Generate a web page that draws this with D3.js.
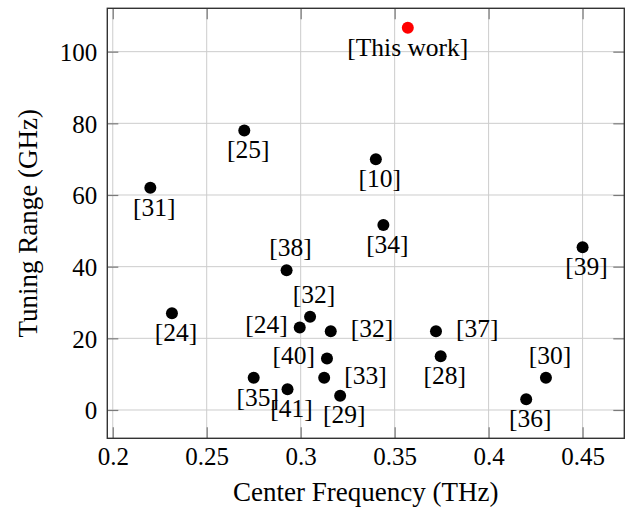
<!DOCTYPE html>
<html>
<head>
<meta charset="utf-8">
<script src="https://cdn.jsdelivr.net/npm/d3@7"></script>
<style>
  body { margin: 0; background: #fff; }
  text { font-family: 'Liberation Serif', 'Times New Roman', Times, serif; fill: #000; }
</style>
</head>
<body>
<svg width="626" height="508"></svg>
<script>
// other works: reference tag, centre frequency (THz), tuning range (GHz)
var refs  = ['[25]', '[10]', '[31]', '[34]', '[38]', '[39]', '[24]', '[32]', '[24]', '[32]', '[37]', '[40]', '[28]', '[30]', '[33]', '[35]', '[41]', '[29]', '[36]']
var freq  = [0.270, 0.340, 0.220, 0.344, 0.2925, 0.450, 0.2315, 0.305, 0.2995, 0.316, 0.372, 0.314, 0.3745, 0.4305, 0.3125, 0.275, 0.293, 0.321, 0.420]
var range = [78, 70, 62, 51.6, 39, 45.4, 27, 26, 23, 22, 22, 14.4, 15, 9, 9, 9, 5.8, 4, 3]
var side  = ['below', 'below', 'below', 'below', 'above', 'below', 'below', 'above', 'left', 'right', 'right', 'left', 'below', 'above', 'right', 'below', 'below', 'below', 'below']

// this work
var thisLabel = ['[This work]']
var thisFreq  = [0.357]
var thisRange = [106.7]

var xTicks = [0.2, 0.25, 0.3, 0.35, 0.4, 0.45]
var yTicks = [0, 20, 40, 60, 80, 100]

var serif = "'Liberation Serif', 'Times New Roman', Times, serif"

var margin = { top: 8.3, right: 1.7, bottom: 69.7, left: 107.3 }
var width = 626 - margin.left - margin.right
var height = 508 - margin.top - margin.bottom

var svg = d3.select('svg')
var g = svg.append('g').attr('transform', 'translate(' + margin.left + ',' + margin.top + ')')

var x = d3.scaleLinear().domain([0.1971, 0.4722]).range([0, width])
var y = d3.scaleLinear().domain([-7.9, 112.1]).range([height, 0])

// grid
g.append('g')
  .selectAll('line')
  .data(xTicks)
  .enter().append('line')
  .attr('x1', d => x(d)).attr('x2', d => x(d))
  .attr('y1', 0).attr('y2', height)
  .attr('stroke', '#cccccc')
g.append('g')
  .selectAll('line')
  .data(yTicks)
  .enter().append('line')
  .attr('y1', d => y(d)).attr('y2', d => y(d))
  .attr('x1', 0).attr('x2', width)
  .attr('stroke', '#cccccc')

// inward tick marks on all four sides
function ticks(axis, tx, ty) {
  var a = g.append('g').attr('transform', 'translate(' + tx + ',' + ty + ')')
    .call(axis.tickSize(-11).tickFormat(''))
  a.select('.domain').remove()
  a.selectAll('line').attr('stroke', '#7a7a7a').attr('stroke-width', 1.2)
}
ticks(d3.axisBottom(x).tickValues(xTicks), 0, height)
ticks(d3.axisTop(x).tickValues(xTicks), 0, 0)
ticks(d3.axisLeft(y).tickValues(yTicks), 0, 0)
ticks(d3.axisRight(y).tickValues(yTicks), width, 0)

// tick labels
var xa = g.append('g').attr('transform', 'translate(0,' + height + ')')
  .call(d3.axisBottom(x).tickValues(xTicks).tickSize(0).tickPadding(9).tickFormat(d => d))
xa.select('.domain').remove()
xa.attr('font-family', serif).attr('font-size', 25)

var ya = g.append('g')
  .call(d3.axisLeft(y).tickValues(yTicks).tickSize(0).tickPadding(10).tickFormat(d => d))
ya.select('.domain').remove()
ya.attr('font-family', serif).attr('font-size', 25)
ya.selectAll('text').attr('dy', '0.35em')

// box
g.append('rect')
  .attr('width', width).attr('height', height)
  .attr('fill', 'none').attr('stroke', '#333').attr('stroke-width', 1.4)

// axis titles
svg.append('text')
  .attr('x', margin.left + width / 2).attr('y', 501)
  .attr('text-anchor', 'middle').attr('font-size', 27)
  .attr('font-family', serif)
  .text('Center Frequency (THz)')
svg.append('text')
  .attr('transform', 'translate(37,' + (margin.top + height / 2) + ') rotate(-90)')
  .attr('text-anchor', 'middle').attr('font-size', 27)
  .attr('font-family', serif)
  .text('Tuning Range (GHz)')

// label placement
var place = {
  below: { dx: 4, dy: 27.8, anchor: 'middle' },
  above: { dx: 4, dy: -14, anchor: 'middle' },
  left: { dx: -12, dy: 5.8, anchor: 'end' },
  right: { dx: 20, dy: 6.2, anchor: 'start' }
}

var others = refs.map((r, i) => ({ ref: r, f: freq[i], t: range[i], side: side[i] }))

g.selectAll('circle.other')
  .data(others)
  .enter().append('circle')
  .attr('class', 'other')
  .attr('cx', d => x(d.f))
  .attr('cy', d => y(d.t))
  .attr('r', 6)
  .attr('fill', 'black')

g.selectAll('text.other')
  .data(others)
  .enter().append('text')
  .attr('class', 'other')
  .attr('x', d => x(d.f) + place[d.side].dx)
  .attr('y', d => y(d.t) + place[d.side].dy)
  .attr('text-anchor', d => place[d.side].anchor)
  .attr('font-size', 25.5)
  .attr('font-family', serif)
  .text(d => d.ref)

var mine = thisLabel.map((r, i) => ({ ref: r, f: thisFreq[i], t: thisRange[i] }))

g.selectAll('circle.mine')
  .data(mine)
  .enter().append('circle')
  .attr('class', 'mine')
  .attr('cx', d => x(d.f))
  .attr('cy', d => y(d.t))
  .attr('r', 6)
  .attr('fill', 'red')

g.selectAll('text.mine')
  .data(mine)
  .enter().append('text')
  .attr('class', 'mine')
  .attr('x', d => x(d.f))
  .attr('y', d => y(d.t) + 28.5)
  .attr('text-anchor', 'middle')
  .attr('font-size', 25.5)
  .attr('font-family', serif)
  .text(d => d.ref)
</script>
</body>
</html>
